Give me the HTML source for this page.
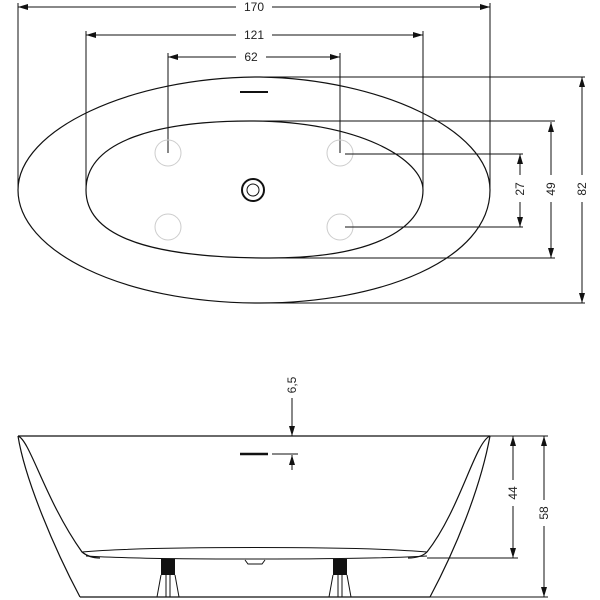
<!DOCTYPE html>
<html><head><style>body{margin:0;background:#fff}svg{display:block}text{font-family:"Liberation Sans",sans-serif;font-size:12px;fill:#222}</style></head><body>
<svg width="600" height="600" viewBox="0 0 600 600" xmlns="http://www.w3.org/2000/svg">
<defs><marker id="a" viewBox="0 0 10 6" refX="10" refY="3" markerWidth="10" markerHeight="6" orient="auto-start-reverse"><path d="M0,0L10,3L0,6z" fill="#111"/></marker></defs>
<g stroke="#111" stroke-width="1" fill="none">
<line x1="18" y1="3" x2="18" y2="190"/><line x1="490" y1="3" x2="490" y2="190"/>
<line x1="86" y1="31" x2="86" y2="190"/><line x1="423" y1="31" x2="423" y2="190"/>
<line x1="168" y1="53" x2="168" y2="153"/><line x1="340" y1="53" x2="340" y2="153"/>
<line x1="18" y1="7" x2="236" y2="7" marker-start="url(#a)"/><line x1="272" y1="7" x2="490" y2="7" marker-end="url(#a)"/>
<line x1="86" y1="35" x2="236" y2="35" marker-start="url(#a)"/><line x1="272" y1="35" x2="423" y2="35" marker-end="url(#a)"/>
<line x1="168" y1="57" x2="236" y2="57" marker-start="url(#a)"/><line x1="266" y1="57" x2="340" y2="57" marker-end="url(#a)"/>
<path d="M260,77 C380,79 490,130 490,190 C490,260 380,303 260,303 C120,303 18,250 18,190 C18,130 130,77 260,77 Z" stroke-width="1.2"/>
<path d="M250,121 C360,121 423,160 423,190 C423,230 370,258 270,258 C160,258 86,240 86,190 C86,140 160,121 250,121 Z" stroke-width="1.2"/>
<line x1="240" y1="92" x2="268" y2="92" stroke-width="2"/>
<circle cx="253" cy="190" r="11" stroke-width="2"/><circle cx="253" cy="190" r="6"/>
<g stroke="#ccc"><circle cx="168" cy="153" r="13"/><circle cx="340" cy="153" r="13"/><circle cx="168" cy="227" r="13"/><circle cx="340" cy="227" r="13"/></g>
<line x1="260" y1="77" x2="585" y2="77"/><line x1="260" y1="303" x2="585" y2="303"/>
<line x1="250" y1="121" x2="555" y2="121"/><line x1="270" y1="258" x2="555" y2="258"/>
<line x1="345" y1="154" x2="523" y2="154"/><line x1="345" y1="227" x2="523" y2="227"/>
<line x1="520" y1="154" x2="520" y2="175" marker-start="url(#a)"/><line x1="520" y1="202" x2="520" y2="227" marker-end="url(#a)"/>
<line x1="551" y1="122" x2="551" y2="175" marker-start="url(#a)"/><line x1="551" y1="202" x2="551" y2="258" marker-end="url(#a)"/>
<line x1="582" y1="77" x2="582" y2="175" marker-start="url(#a)"/><line x1="582" y1="202" x2="582" y2="303" marker-end="url(#a)"/>
<line x1="18" y1="436" x2="490" y2="436" stroke-width="1.2"/>
<line x1="80" y1="597" x2="430" y2="597" stroke-width="1.2"/>
<path d="M18,436 C25,480 55,550 80,597" stroke-width="1.2"/>
<path d="M490,436 C480,490 455,550 430,597" stroke-width="1.2"/>
<path d="M18,436 C30,440 45,500 82,552 C88,557 95,558 100,558" stroke-width="1.2"/>
<path d="M490,436 C475,442 460,510 427,552 C422,557 415,558 408,558" stroke-width="1.2"/>
<path d="M82,552 C150,546 360,546 427,552"/>
<path d="M86,556 C150,560 360,560 427,556"/>
<path d="M245,560 L248,564 L262,564 L265,560"/>
<rect x="161" y="559" width="14" height="16" fill="#111" stroke="none"/>
<rect x="333" y="559" width="14" height="16" fill="#111" stroke="none"/>
<path d="M161,575 L157,597 M175,575 L179,597 M166,575 L166,597 M170,575 L170,597"/>
<path d="M333,575 L329,597 M347,575 L351,597 M338,575 L338,597 M342,575 L342,597"/>
<line x1="240" y1="454" x2="268" y2="454" stroke-width="2.5"/>
<line x1="292" y1="398" x2="292" y2="436" marker-end="url(#a)"/>
<line x1="272" y1="454" x2="298" y2="454"/>
<line x1="292" y1="470" x2="292" y2="455" marker-end="url(#a)"/>
<line x1="490" y1="436" x2="548" y2="436"/><line x1="430" y1="597" x2="548" y2="597"/>
<line x1="427" y1="558" x2="518" y2="558"/>
<line x1="513" y1="436" x2="513" y2="480" marker-start="url(#a)"/><line x1="513" y1="506" x2="513" y2="558" marker-end="url(#a)"/>
<line x1="544" y1="436" x2="544" y2="500" marker-start="url(#a)"/><line x1="544" y1="526" x2="544" y2="597" marker-end="url(#a)"/>
</g>
<text x="254" y="11" text-anchor="middle">170</text>
<text x="254" y="39" text-anchor="middle">121</text>
<text x="251" y="61" text-anchor="middle">62</text>
<text transform="translate(524,189) rotate(-90)" text-anchor="middle">27</text>
<text transform="translate(555,189) rotate(-90)" text-anchor="middle">49</text>
<text transform="translate(586,189) rotate(-90)" text-anchor="middle">82</text>
<text transform="translate(296,385) rotate(-90)" text-anchor="middle">6,5</text>
<text transform="translate(517,493) rotate(-90)" text-anchor="middle">44</text>
<text transform="translate(548,513) rotate(-90)" text-anchor="middle">58</text>
</svg>
</body></html>
